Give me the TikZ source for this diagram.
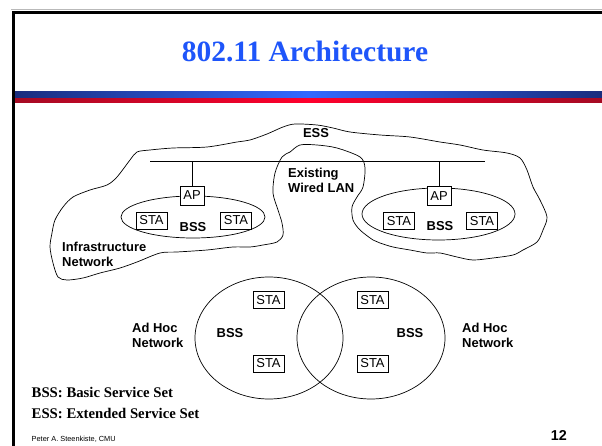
\documentclass[tikz,border=0pt]{standalone}
\usepackage{fontspec}
\setmainfont{Liberation Serif}
\setsansfont{Liberation Sans}
\definecolor{titleblue}{RGB}{30,85,250}
\definecolor{barblueD}{RGB}{25,45,125}
\definecolor{barblueL}{RGB}{50,105,255}
\definecolor{barredD}{RGB}{165,10,35}
\definecolor{barredL}{RGB}{255,0,45}
\begin{document}
\begin{tikzpicture}[x=1bp,y=-1bp,
  lbl/.style={font=\sffamily\bfseries\fontsize{13}{15}\selectfont, inner sep=0, anchor=base west},
  lblc/.style={font=\sffamily\bfseries\fontsize{13}{15}\selectfont, inner sep=0, anchor=base},
  stabox/.style={draw, fill=white, line width=0.6bp, font=\sffamily\fontsize{13}{15}\selectfont, minimum width=31bp, minimum height=17bp, inner sep=0},
  apbox/.style={stabox, minimum width=24bp, minimum height=19bp},
  outl/.style={line width=0.7bp},
  legend/.style={font=\bfseries\fontsize{14.8}{17}\selectfont, anchor=base west, inner sep=0},
]
\useasboundingbox (0,0) rectangle (602,446);
\fill[white] (0,0) rectangle (602,446);
% frame
\draw[gray!55, line width=1.5bp] (11,9.5) -- (602,9.5);
\draw[black, line width=3bp] (13.5,446) -- (13.5,13) -- (602,13);
% title bars
\shade[left color=barblueD, right color=barblueD, middle color=barblueL] (15,92) rectangle (602,98);
\shade[left color=barredD, right color=barredD, middle color=barredL] (15,99) rectangle (602,103);
% title
\node[font=\bfseries\fontsize{29.6}{32}\selectfont, text=titleblue, anchor=base, inner sep=0] (title) at (305,62) {802.11 Architecture};

% ESS cloud
\draw[outl] plot[smooth cycle, tension=0.5] coordinates {
(283,127) (295,124) (317,125) (333,128) (350,132) (380,135) (410,137) (440,142)
(460,145) (483,150) (507,153) (520,158) (527,170) (533,187) (540,200) (547,217)
(543,230) (537,242) (523,250) (513,255) (493,258) (473,260) (457,257) (440,253)
(427,253) (410,250) (393,247) (380,243) (373,240) (360,230) (353,220) (352,207)
(357,197) (363,187) (365,168) (360,157) (337,148) (317,145) (300,145) (290,152)
(282,157) (275,173) (273,193) (278,210) (282,223) (283,235) (277,242) (263,245)
(250,247) (233,247) (207,250) (177,252) (160,253) (137,262) (120,268) (100,273)
(83,278) (67,280) (58,277) (53,263) (50,247) (52,233) (55,220) (63,207)
(73,197) (90,190) (107,185) (117,177) (130,160) (137,152) (150,150) (173,148)
(207,147) (237,142) (250,140) (267,134)};

% wired LAN
\coordinate (lanL) at (150,162);
\coordinate (lanR) at (485,162);
\draw[line width=1bp] (lanL) -- (lanR);

% infrastructure BSS ellipses
\draw[outl] (193,217) ellipse [x radius=72, y radius=21];
\draw[outl] (438.5,214) ellipse [x radius=76.5, y radius=26];

\node[apbox] (ap1) at (192,195.5) {AP};
\node[apbox] (ap2) at (439,196) {AP};
\draw[line width=1bp] (ap1.north |- lanL) -- (ap1.north);
\draw[line width=1bp] (ap2.north |- lanL) -- (ap2.north);

\node[stabox] (s1) at (151.5,220.5) {STA};
\node[stabox] (s2) at (236,220.5) {STA};
\node[stabox] (s3) at (399,221) {STA};
\node[stabox] (s4) at (482,221) {STA};
\node[lblc] (bss1) at (193,232) {BSS};
\node[lblc] (bss2) at (440,231) {BSS};

\node[lblc] (ess) at (316,137.5) {ESS};
\node[lbl] (ex1) at (288,178) {Existing};
\node[lbl] (ex2) at (288,193) {Wired LAN};
\node[lbl] (inf1) at (62,252) {Infrastructure};
\node[lbl] (inf2) at (62,267) {Network};

% ad hoc
\draw[outl] (269,338) ellipse [x radius=74, y radius=61];
\draw[outl] (371,338) ellipse [x radius=74, y radius=61];
\node[stabox] (a1) at (268.5,300) {STA};
\node[stabox] (a2) at (268.5,363.5) {STA};
\node[stabox] (a3) at (372.5,300) {STA};
\node[stabox] (a4) at (372.5,363.5) {STA};
\node[lblc] (bss3) at (230,337) {BSS};
\node[lblc] (bss4) at (410,337) {BSS};
\node[lbl] (ah1) at (132,332) {Ad Hoc};
\node[lbl] (ah2) at (132,347) {Network};
\node[lbl] (ah3) at (462,332) {Ad Hoc};
\node[lbl] (ah4) at (462,347) {Network};

% legend
\node[legend] (leg1) at (31.5,397) {BSS: Basic Service Set};
\node[legend] (leg2) at (31.5,418) {ESS: Extended Service Set};

% footer
\node[font=\sffamily\fontsize{7.4}{9}\selectfont, anchor=base west, inner sep=0] (foot) at (31.5,441) {Peter A. Steenkiste, CMU};
\node[font=\sffamily\bfseries\fontsize{14.4}{16}\selectfont, anchor=base east, inner sep=0] (pg) at (567,440) {12};
\end{tikzpicture}
\end{document}
